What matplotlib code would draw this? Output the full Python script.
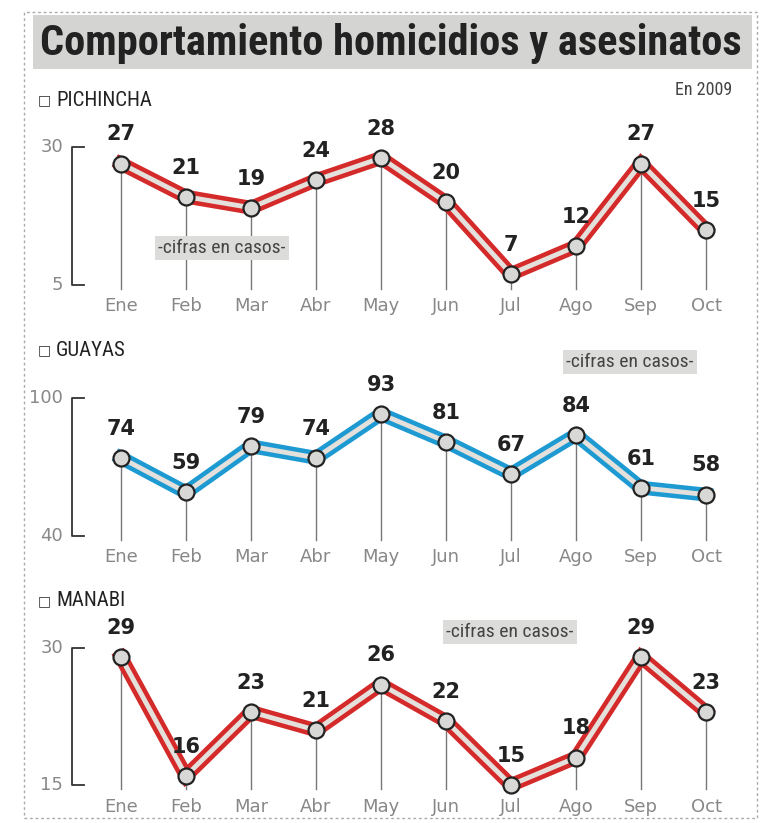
import matplotlib.pyplot as plt
from matplotlib.patches import Rectangle

# data
months = ["Ene", "Feb", "Mar", "Abr", "May", "Jun", "Jul", "Ago", "Sep", "Oct"]
pichincha = [27, 21, 19, 24, 28, 20, 7, 12, 27, 15]
guayas = [74, 59, 79, 74, 93, 81, 67, 84, 61, 58]
manabi = [29, 16, 23, 21, 26, 22, 15, 18, 29, 23]
regions = ["PICHINCHA", "GUAYAS", "MANABI"]
ranges = [(5, 30), (40, 100), (15, 30)]

W, H = 764, 823
fig = plt.figure(figsize=(W / 100, H / 100), dpi=100)
fig.patch.set_facecolor("white")
narrow = ["Roboto Condensed", "Roboto", "DejaVu Sans"]

def fx(px):
    return px / W

def fy(py):
    return 1 - py / H

# dashed frame
fig.patches.append(Rectangle((fx(24), fy(818)), fx(757) - fx(24), fy(12) - fy(818),
                             transform=fig.transFigure, fill=False, ec="#aaaaaa",
                             lw=1, ls=(0, (2, 2))))
# title box
fig.patches.append(Rectangle((fx(33), fy(69)), fx(752) - fx(33), fy(15) - fy(69),
                             transform=fig.transFigure, fc="#d4d4d2", ec="none"))
fig.text(fx(391), fy(43), "Comportamiento homicidios y asesinatos",
         family=narrow, fontweight="bold",
         fontsize=30.5, color="#222222", ha="center", va="center")
fig.text(fx(732), fy(90), "En 2009", family=narrow,
         fontsize=13, color="#444444", ha="right", va="center")

red = "#d42a2a"
blue = "#1e9ad3"
inner = "#e4e0dc"

panels = [
    dict(vals=pichincha, col=red, head=100, top=147, bot=285, mon=306, note=(222, 248)),
    dict(vals=guayas, col=blue, head=350, top=398, bot=536, mon=557, note=(630, 362)),
    dict(vals=manabi, col=red, head=601, top=648, bot=785, mon=807, note=(510, 632)),
]

x0, x1 = 121, 706
for i, p in enumerate(panels):
    lo, hi = ranges[i]
    ax = fig.add_axes([fx(x0), fy(p["bot"]), fx(x1) - fx(x0), fy(p["top"]) - fy(p["bot"])])
    ax.set_xlim(0, len(months) - 1)
    ax.set_ylim(lo, hi)
    ax.axis("off")
    xs = list(range(len(months)))
    vals = p["vals"]
    span = hi - lo
    # drop lines
    for x, v in zip(xs, vals):
        ax.plot([x, x], [v, lo - span * 0.03], color="#777777", lw=1, clip_on=False, zorder=1)
    ax.plot(xs, vals, color=p["col"], lw=10, solid_joinstyle="miter", clip_on=False, zorder=2)
    ax.plot(xs, vals, color=inner, lw=3.5, clip_on=False, zorder=3)
    ax.plot(xs, vals, "o", ms=11.5, mfc="#d8d8d6", mec="#222222", mew=1.6,
            clip_on=False, zorder=4)
    for x, v in zip(xs, vals):
        ax.annotate(str(v), (x, v), xytext=(0, 21), textcoords="offset points",
                    ha="center", va="center", fontsize=15, fontweight="bold",
                    color="#222222", zorder=5)
    # month labels
    mon_y = lo - span * (p["mon"] - p["bot"]) / (p["bot"] - p["top"])
    for x, m in zip(xs, months):
        ax.text(x, mon_y, m, ha="center", va="center", fontsize=13, color="#888888")
    # bracket scale
    bx = (72 - x0) / 65.0
    bx2 = (84 - x0) / 65.0
    ax.plot([bx2, bx, bx, bx2], [hi, hi, lo, lo], color="#333333", lw=1.3, clip_on=False)
    lx = (63 - x0) / 65.0
    ax.text(lx, hi, str(hi), ha="right", va="center", fontsize=13, color="#888888")
    ax.text(lx, lo, str(lo), ha="right", va="center", fontsize=13, color="#888888")
    # header
    fig.text(fx(38), fy(p["head"]), "\u25a1", fontsize=10, color="#333333", ha="left", va="center")
    fig.text(fx(56), fy(p["head"]), regions[i], fontsize=15, color="#222222",
             family=narrow, ha="left", va="center")
    # note
    nx, ny = p["note"]
    fig.text(fx(nx), fy(ny), "-cifras en casos-", fontsize=14, color="#444444",
             family=narrow, ha="center", va="center",
             bbox=dict(boxstyle="square,pad=0.15", fc="#dcdcda", ec="none"))

fig.savefig("out.png", dpi=100)
